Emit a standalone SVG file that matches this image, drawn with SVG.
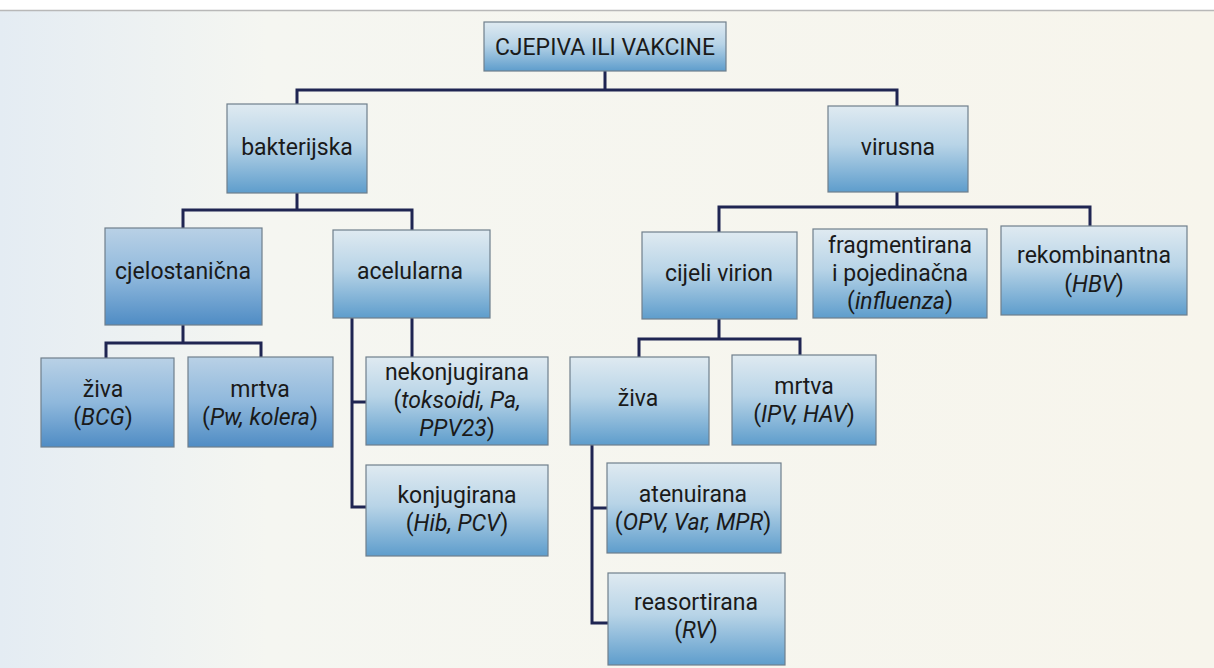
<svg xmlns="http://www.w3.org/2000/svg" width="1214" height="668" viewBox="0 0 1214 668">
<defs>
<linearGradient id="bg" x1="0" y1="0" x2="1" y2="0">
<stop offset="0" stop-color="#e4ecf3"/>
<stop offset="0.22" stop-color="#f5f6f1"/>
<stop offset="1" stop-color="#f7f5ec"/>
</linearGradient>
<linearGradient id="box" x1="0" y1="0" x2="0" y2="1">
<stop offset="0" stop-color="#dfeaf1"/>
<stop offset="0.45" stop-color="#b8d4e7"/>
<stop offset="1" stop-color="#5e9dcc"/>
</linearGradient>
<linearGradient id="boxd" x1="0" y1="0" x2="0" y2="1">
<stop offset="0" stop-color="#b9d1e6"/>
<stop offset="0.5" stop-color="#8fb8dc"/>
<stop offset="1" stop-color="#4f8cc4"/>
</linearGradient>
<style>
.n rect{fill:url(#box);stroke:#6f7f8c;stroke-width:1.2}
.n.d rect{fill:url(#boxd)}
.n text{font-family:Roboto,"Noto Sans",sans-serif;font-size:23px;fill:#1a1a1a;text-anchor:middle}
.i{font-style:italic}
#connectors path{fill:none;stroke:#1f2552;stroke-width:3}
</style>
</defs>
<rect x="0" y="0" width="1214" height="668" fill="#ffffff"/>
<rect x="0" y="11" width="1214" height="657" fill="url(#bg)"/>
<line x1="0" y1="10.5" x2="1214" y2="10.5" stroke="#b8b8b8" stroke-width="1.5"/>
<g id="connectors">
<path d="M605 71V90M297 104V90H897V106"/>
<path d="M297 193V210M183 228V210H412V230"/>
<path d="M897 192V207M719 232V207H1090V226"/>
<path d="M183 325V343M106 358V343H261V357"/>
<path d="M412 318V357M352 318V507H366M352 402H366"/>
<path d="M719 319V339M639 357V339H800V355"/>
<path d="M592 445V623H608M592 508H607"/>
</g>
<g id="root" class="n"><rect x="484" y="22" width="242" height="49"/><text x="605" y="55">CJEPIVA ILI VAKCINE</text></g>
<g id="bakterijska" class="n"><rect x="227" y="104" width="140" height="89"/><text x="297" y="155">bakterijska</text></g>
<g id="virusna" class="n"><rect x="828" y="106" width="140" height="86"/><text x="898" y="155">virusna</text></g>
<g id="cjelostanicna" class="n d"><rect x="105" y="228" width="157" height="97"/><text x="183" y="279">cjelostanična</text></g>
<g id="acelularna" class="n"><rect x="333" y="230" width="157" height="88"/><text x="410" y="279">acelularna</text></g>
<g id="cijeli-virion" class="n"><rect x="642" y="232" width="155" height="87"/><text x="719" y="281">cijeli virion</text></g>
<g id="fragmentirana" class="n"><rect x="813" y="229" width="174" height="89"/><text x="900" y="253">fragmentirana</text><text x="900" y="281">i pojedinačna</text><text x="900" y="309">(<tspan class="i">influenza</tspan>)</text></g>
<g id="rekombinantna" class="n"><rect x="1001" y="226" width="186" height="89"/><text x="1094" y="263">rekombinantna</text><text x="1094" y="292">(<tspan class="i">HBV</tspan>)</text></g>
<g id="ziva-bcg" class="n d"><rect x="41" y="358" width="133" height="89"/><text x="103" y="397">živa</text><text x="103" y="425">(<tspan class="i">BCG</tspan>)</text></g>
<g id="mrtva-pw" class="n d"><rect x="188" y="357" width="145" height="90"/><text x="260" y="397">mrtva</text><text x="260" y="425">(<tspan class="i">Pw, kolera</tspan>)</text></g>
<g id="nekonjugirana" class="n"><rect x="366" y="357" width="182" height="88"/><text x="457" y="380">nekonjugirana</text><text x="457" y="408">(<tspan class="i">toksoidi, Pa,</tspan></text><text x="457" y="436"><tspan class="i">PPV23</tspan>)</text></g>
<g id="konjugirana" class="n"><rect x="366" y="465" width="182" height="91"/><text x="457" y="503">konjugirana</text><text x="457" y="531">(<tspan class="i">Hib, PCV</tspan>)</text></g>
<g id="ziva-virus" class="n"><rect x="570" y="357" width="139" height="88"/><text x="638" y="406">živa</text></g>
<g id="mrtva-ipv" class="n"><rect x="732" y="355" width="144" height="90"/><text x="804" y="394">mrtva</text><text x="804" y="422">(<tspan class="i">IPV, HAV</tspan>)</text></g>
<g id="atenuirana" class="n"><rect x="607" y="463" width="174" height="90"/><text x="693" y="502">atenuirana</text><text x="693" y="530">(<tspan class="i">OPV, Var, MPR</tspan>)</text></g>
<g id="reasortirana" class="n"><rect x="608" y="573" width="177" height="92"/><text x="696" y="610">reasortirana</text><text x="696" y="638">(<tspan class="i">RV</tspan>)</text></g>
</svg>
